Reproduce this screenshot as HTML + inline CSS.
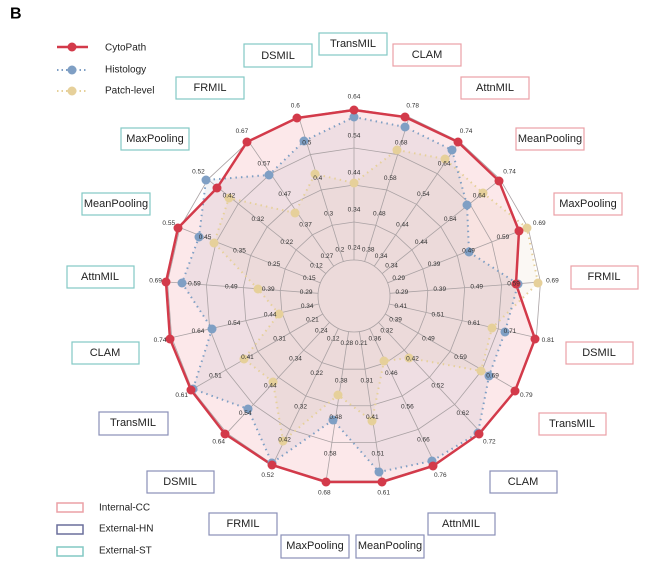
<!DOCTYPE html>
<html><head><meta charset="utf-8"><style>
html,body{margin:0;padding:0;background:#fff;}
svg{display:block;font-family:"Liberation Sans",sans-serif;}
.t{font-size:6.5px;fill:#333;text-anchor:middle;dominant-baseline:central;}
.b{font-size:11px;fill:#222;text-anchor:middle;dominant-baseline:central;}
.l{font-size:10px;fill:#222;dominant-baseline:central;}
</style></head><body>
<svg width="648" height="568" viewBox="0 0 648 568" xmlns="http://www.w3.org/2000/svg">
<text x="10" y="14" font-size="16" font-weight="bold" dominant-baseline="central">B</text>
<!-- legend top -->
<line x1="57" y1="47" x2="88" y2="47" stroke="#d33a4a" stroke-width="2.5"/><circle cx="72" cy="47" r="4.5" fill="#d33a4a"/>
<text class="l" x="105" y="48">CytoPath</text>
<line x1="57" y1="70" x2="88" y2="70" stroke="#7f9fc4" stroke-width="2" stroke-dasharray="1.5 3"/><circle cx="72" cy="70" r="4.5" fill="#7f9fc4"/>
<text class="l" x="105" y="70">Histology</text>
<line x1="57" y1="91" x2="88" y2="91" stroke="#e6d09a" stroke-width="2" stroke-dasharray="1.5 3"/><circle cx="72" cy="91" r="4.5" fill="#e6d09a"/>
<text class="l" x="105" y="91">Patch-level</text>
<!-- legend bottom -->
<rect x="57" y="503" width="26" height="9" fill="none" stroke="#eba0a6" stroke-width="1.5"/><text class="l" x="99" y="508">Internal-CC</text>
<rect x="57" y="525" width="26" height="9" fill="none" stroke="#6a6f9c" stroke-width="1.5"/><text class="l" x="99" y="529">External-HN</text>
<rect x="57" y="547" width="26" height="9" fill="none" stroke="#82c9c4" stroke-width="1.5"/><text class="l" x="99" y="551">External-ST</text>

<!-- fills -->
<polygon points="354,110 405,117 458,142 499,181 519,231 516,284 535,339 515,391 479,434 433,466 382,482 326,482 272,465 225,434 191,390 170,339 166,282 178,228 217,188 247,142 297,118" fill="rgba(235,120,130,0.17)"/>
<polygon points="354,117 405,127 452,150 467,205 469,252 518,284 505,332 489,376 478,433 432,461 379,472 333,420 272,463 248,409 193,389 212,329 182,283 199,237 206,180 269,175 304,141" fill="rgba(130,135,170,0.10)"/>
<polygon points="354,183 397,150 445,159 483,193 527,228 538,283 492,328 481,371 409,358 384,361 372,421 338,395 283,441 273,382 244,359 279,314 258,289 214,243 229,198 295,213 315,174" fill="rgba(220,190,150,0.10)"/>

<!-- grid -->
<g fill="none" stroke="#aaa2a4" stroke-width="0.8">
<circle cx="354" cy="296" r="36"/>
<g transform="translate(354,296)">
<polygon vector-effect="non-scaling-stroke" transform="scale(0.74)" points="0,-100 29.48,-95.56 56.33,-82.62 78.18,-62.35 93.09,-36.53 99.72,-7.47 97.49,22.25 86.6,50 68.02,73.31 43.39,90.1 14.9,98.88 -14.9,98.88 -43.39,90.1 -68.02,73.31 -86.6,50 -97.49,22.25 -99.72,-7.47 -93.09,-36.53 -78.18,-62.35 -56.33,-82.62 -29.48,-95.56"/>
<polygon vector-effect="non-scaling-stroke" transform="scale(1.11)" points="0,-100 29.48,-95.56 56.33,-82.62 78.18,-62.35 93.09,-36.53 99.72,-7.47 97.49,22.25 86.6,50 68.02,73.31 43.39,90.1 14.9,98.88 -14.9,98.88 -43.39,90.1 -68.02,73.31 -86.6,50 -97.49,22.25 -99.72,-7.47 -93.09,-36.53 -78.18,-62.35 -56.33,-82.62 -29.48,-95.56"/>
<polygon vector-effect="non-scaling-stroke" transform="scale(1.48)" points="0,-100 29.48,-95.56 56.33,-82.62 78.18,-62.35 93.09,-36.53 99.72,-7.47 97.49,22.25 86.6,50 68.02,73.31 43.39,90.1 14.9,98.88 -14.9,98.88 -43.39,90.1 -68.02,73.31 -86.6,50 -97.49,22.25 -99.72,-7.47 -93.09,-36.53 -78.18,-62.35 -56.33,-82.62 -29.48,-95.56"/>
<polygon vector-effect="non-scaling-stroke" transform="scale(1.87)" points="0,-100 29.48,-95.56 56.33,-82.62 78.18,-62.35 93.09,-36.53 99.72,-7.47 97.49,22.25 86.6,50 68.02,73.31 43.39,90.1 14.9,98.88 -14.9,98.88 -43.39,90.1 -68.02,73.31 -86.6,50 -97.49,22.25 -99.72,-7.47 -93.09,-36.53 -78.18,-62.35 -56.33,-82.62 -29.48,-95.56"/>
</g>
<g id="ax"><line x1="354" y1="260" x2="354" y2="109"/></g>
<use href="#ax" transform="rotate(17.143 354 296)"/><use href="#ax" transform="rotate(34.286 354 296)"/><use href="#ax" transform="rotate(51.429 354 296)"/><use href="#ax" transform="rotate(68.571 354 296)"/><use href="#ax" transform="rotate(85.714 354 296)"/><use href="#ax" transform="rotate(102.857 354 296)"/><use href="#ax" transform="rotate(120 354 296)"/><use href="#ax" transform="rotate(137.143 354 296)"/><use href="#ax" transform="rotate(154.286 354 296)"/><use href="#ax" transform="rotate(171.429 354 296)"/><use href="#ax" transform="rotate(188.571 354 296)"/><use href="#ax" transform="rotate(205.714 354 296)"/><use href="#ax" transform="rotate(222.857 354 296)"/><use href="#ax" transform="rotate(240 354 296)"/><use href="#ax" transform="rotate(257.143 354 296)"/><use href="#ax" transform="rotate(274.286 354 296)"/><use href="#ax" transform="rotate(291.429 354 296)"/><use href="#ax" transform="rotate(308.571 354 296)"/><use href="#ax" transform="rotate(325.714 354 296)"/><use href="#ax" transform="rotate(342.857 354 296)"/>
</g>

<!-- series lines -->
<polygon points="354,183 397,150 445,159 483,193 527,228 538,283 492,328 481,371 409,358 384,361 372,421 338,395 283,441 273,382 244,359 279,314 258,289 214,243 229,198 295,213 315,174" fill="none" stroke="#e6d09a" stroke-width="2" stroke-dasharray="1.5 4"/>
<polygon points="354,117 405,127 452,150 467,205 469,252 518,284 505,332 489,376 478,433 432,461 379,472 333,420 272,463 248,409 193,389 212,329 182,283 199,237 206,180 269,175 304,141" fill="none" stroke="#7f9fc4" stroke-width="2" stroke-dasharray="1.5 4"/>
<polygon points="354,110 405,117 458,142 499,181 519,231 516,284 535,339 515,391 479,434 433,466 382,482 326,482 272,465 225,434 191,390 170,339 166,282 178,228 217,188 247,142 297,118" fill="none" stroke="#d33a4a" stroke-width="2.5"/>

<!-- points -->
<g fill="#e6d09a">
<circle cx="354" cy="183" r="4.5"/><circle cx="397" cy="150" r="4.5"/><circle cx="445" cy="159" r="4.5"/><circle cx="483" cy="193" r="4.5"/><circle cx="527" cy="228" r="4.5"/><circle cx="538" cy="283" r="4.5"/><circle cx="492" cy="328" r="4.5"/><circle cx="481" cy="371" r="4.5"/><circle cx="409" cy="358" r="4.5"/><circle cx="384" cy="361" r="4.5"/><circle cx="372" cy="421" r="4.5"/><circle cx="338" cy="395" r="4.5"/><circle cx="283" cy="441" r="4.5"/><circle cx="273" cy="382" r="4.5"/><circle cx="244" cy="359" r="4.5"/><circle cx="279" cy="314" r="4.5"/><circle cx="258" cy="289" r="4.5"/><circle cx="214" cy="243" r="4.5"/><circle cx="229" cy="198" r="4.5"/><circle cx="295" cy="213" r="4.5"/><circle cx="315" cy="174" r="4.5"/>
</g>
<g fill="#7f9fc4">
<circle cx="354" cy="117" r="4.5"/><circle cx="405" cy="127" r="4.5"/><circle cx="452" cy="150" r="4.5"/><circle cx="467" cy="205" r="4.5"/><circle cx="469" cy="252" r="4.5"/><circle cx="518" cy="284" r="4.5"/><circle cx="505" cy="332" r="4.5"/><circle cx="489" cy="376" r="4.5"/><circle cx="478" cy="433" r="4.5"/><circle cx="432" cy="461" r="4.5"/><circle cx="379" cy="472" r="4.5"/><circle cx="333" cy="420" r="4.5"/><circle cx="272" cy="463" r="4.5"/><circle cx="248" cy="409" r="4.5"/><circle cx="193" cy="389" r="4.5"/><circle cx="212" cy="329" r="4.5"/><circle cx="182" cy="283" r="4.5"/><circle cx="199" cy="237" r="4.5"/><circle cx="206" cy="180" r="4.5"/><circle cx="269" cy="175" r="4.5"/><circle cx="304" cy="141" r="4.5"/>
</g>
<g fill="#d33a4a">
<circle cx="354" cy="110" r="4.5"/><circle cx="405" cy="117" r="4.5"/><circle cx="458" cy="142" r="4.5"/><circle cx="499" cy="181" r="4.5"/><circle cx="519" cy="231" r="4.5"/><circle cx="516" cy="284" r="4.5"/><circle cx="535" cy="339" r="4.5"/><circle cx="515" cy="391" r="4.5"/><circle cx="479" cy="434" r="4.5"/><circle cx="433" cy="466" r="4.5"/><circle cx="382" cy="482" r="4.5"/><circle cx="326" cy="482" r="4.5"/><circle cx="272" cy="465" r="4.5"/><circle cx="225" cy="434" r="4.5"/><circle cx="191" cy="390" r="4.5"/><circle cx="170" cy="339" r="4.5"/><circle cx="166" cy="282" r="4.5"/><circle cx="178" cy="228" r="4.5"/><circle cx="217" cy="188" r="4.5"/><circle cx="247" cy="142" r="4.5"/><circle cx="297" cy="118" r="4.5"/>
</g>

<!-- tick labels -->
<g class="t">
<g><text class="t" x="354" y="248">0.24</text><text class="t" x="354" y="210">0.34</text><text class="t" x="354" y="173">0.44</text><text class="t" x="354" y="136">0.54</text><text class="t" x="354" y="97">0.64</text></g>
<g transform="rotate(17.143 354 296)"><text class="t" x="354" y="248" transform="rotate(-17.143 354 248)">0.38</text><text class="t" x="354" y="210" transform="rotate(-17.143 354 210)">0.48</text><text class="t" x="354" y="173" transform="rotate(-17.143 354 173)">0.58</text><text class="t" x="354" y="136" transform="rotate(-17.143 354 136)">0.68</text><text class="t" x="354" y="97" transform="rotate(-17.143 354 97)">0.78</text></g>
<g transform="rotate(34.286 354 296)"><text class="t" x="354" y="248" transform="rotate(-34.286 354 248)">0.34</text><text class="t" x="354" y="210" transform="rotate(-34.286 354 210)">0.44</text><text class="t" x="354" y="173" transform="rotate(-34.286 354 173)">0.54</text><text class="t" x="354" y="136" transform="rotate(-34.286 354 136)">0.64</text><text class="t" x="354" y="97" transform="rotate(-34.286 354 97)">0.74</text></g>
<g transform="rotate(51.429 354 296)"><text class="t" x="354" y="248" transform="rotate(-51.429 354 248)">0.34</text><text class="t" x="354" y="210" transform="rotate(-51.429 354 210)">0.44</text><text class="t" x="354" y="173" transform="rotate(-51.429 354 173)">0.54</text><text class="t" x="354" y="136" transform="rotate(-51.429 354 136)">0.64</text><text class="t" x="354" y="97" transform="rotate(-51.429 354 97)">0.74</text></g>
<g transform="rotate(68.571 354 296)"><text class="t" x="354" y="248" transform="rotate(-68.571 354 248)">0.29</text><text class="t" x="354" y="210" transform="rotate(-68.571 354 210)">0.39</text><text class="t" x="354" y="173" transform="rotate(-68.571 354 173)">0.49</text><text class="t" x="354" y="136" transform="rotate(-68.571 354 136)">0.59</text><text class="t" x="354" y="97" transform="rotate(-68.571 354 97)">0.69</text></g>
<g transform="rotate(85.714 354 296)"><text class="t" x="354" y="248" transform="rotate(-85.714 354 248)">0.29</text><text class="t" x="354" y="210" transform="rotate(-85.714 354 210)">0.39</text><text class="t" x="354" y="173" transform="rotate(-85.714 354 173)">0.49</text><text class="t" x="354" y="136" transform="rotate(-85.714 354 136)">0.59</text><text class="t" x="354" y="97" transform="rotate(-85.714 354 97)">0.69</text></g>
<g transform="rotate(102.857 354 296)"><text class="t" x="354" y="248" transform="rotate(-102.857 354 248)">0.41</text><text class="t" x="354" y="210" transform="rotate(-102.857 354 210)">0.51</text><text class="t" x="354" y="173" transform="rotate(-102.857 354 173)">0.61</text><text class="t" x="354" y="136" transform="rotate(-102.857 354 136)">0.71</text><text class="t" x="354" y="97" transform="rotate(-102.857 354 97)">0.81</text></g>
<g transform="rotate(120 354 296)"><text class="t" x="354" y="248" transform="rotate(-120 354 248)">0.39</text><text class="t" x="354" y="210" transform="rotate(-120 354 210)">0.49</text><text class="t" x="354" y="173" transform="rotate(-120 354 173)">0.59</text><text class="t" x="354" y="136" transform="rotate(-120 354 136)">0.69</text><text class="t" x="354" y="97" transform="rotate(-120 354 97)">0.79</text></g>
<g transform="rotate(137.143 354 296)"><text class="t" x="354" y="248" transform="rotate(-137.143 354 248)">0.32</text><text class="t" x="354" y="210" transform="rotate(-137.143 354 210)">0.42</text><text class="t" x="354" y="173" transform="rotate(-137.143 354 173)">0.52</text><text class="t" x="354" y="136" transform="rotate(-137.143 354 136)">0.62</text><text class="t" x="354" y="97" transform="rotate(-137.143 354 97)">0.72</text></g>
<g transform="rotate(154.286 354 296)"><text class="t" x="354" y="248" transform="rotate(-154.286 354 248)">0.36</text><text class="t" x="354" y="210" transform="rotate(-154.286 354 210)">0.46</text><text class="t" x="354" y="173" transform="rotate(-154.286 354 173)">0.56</text><text class="t" x="354" y="136" transform="rotate(-154.286 354 136)">0.66</text><text class="t" x="354" y="97" transform="rotate(-154.286 354 97)">0.76</text></g>
<g transform="rotate(171.429 354 296)"><text class="t" x="354" y="248" transform="rotate(-171.429 354 248)">0.21</text><text class="t" x="354" y="210" transform="rotate(-171.429 354 210)">0.31</text><text class="t" x="354" y="173" transform="rotate(-171.429 354 173)">0.41</text><text class="t" x="354" y="136" transform="rotate(-171.429 354 136)">0.51</text><text class="t" x="354" y="97" transform="rotate(-171.429 354 97)">0.61</text></g>
<g transform="rotate(188.571 354 296)"><text class="t" x="354" y="248" transform="rotate(-188.571 354 248)">0.28</text><text class="t" x="354" y="210" transform="rotate(-188.571 354 210)">0.38</text><text class="t" x="354" y="173" transform="rotate(-188.571 354 173)">0.48</text><text class="t" x="354" y="136" transform="rotate(-188.571 354 136)">0.58</text><text class="t" x="354" y="97" transform="rotate(-188.571 354 97)">0.68</text></g>
<g transform="rotate(205.714 354 296)"><text class="t" x="354" y="248" transform="rotate(-205.714 354 248)">0.12</text><text class="t" x="354" y="210" transform="rotate(-205.714 354 210)">0.22</text><text class="t" x="354" y="173" transform="rotate(-205.714 354 173)">0.32</text><text class="t" x="354" y="136" transform="rotate(-205.714 354 136)">0.42</text><text class="t" x="354" y="97" transform="rotate(-205.714 354 97)">0.52</text></g>
<g transform="rotate(222.857 354 296)"><text class="t" x="354" y="248" transform="rotate(-222.857 354 248)">0.24</text><text class="t" x="354" y="210" transform="rotate(-222.857 354 210)">0.34</text><text class="t" x="354" y="173" transform="rotate(-222.857 354 173)">0.44</text><text class="t" x="354" y="136" transform="rotate(-222.857 354 136)">0.54</text><text class="t" x="354" y="97" transform="rotate(-222.857 354 97)">0.64</text></g>
<g transform="rotate(240 354 296)"><text class="t" x="354" y="248" transform="rotate(-240 354 248)">0.21</text><text class="t" x="354" y="210" transform="rotate(-240 354 210)">0.31</text><text class="t" x="354" y="173" transform="rotate(-240 354 173)">0.41</text><text class="t" x="354" y="136" transform="rotate(-240 354 136)">0.51</text><text class="t" x="354" y="97" transform="rotate(-240 354 97)">0.61</text></g>
<g transform="rotate(257.143 354 296)"><text class="t" x="354" y="248" transform="rotate(-257.143 354 248)">0.34</text><text class="t" x="354" y="210" transform="rotate(-257.143 354 210)">0.44</text><text class="t" x="354" y="173" transform="rotate(-257.143 354 173)">0.54</text><text class="t" x="354" y="136" transform="rotate(-257.143 354 136)">0.64</text><text class="t" x="354" y="97" transform="rotate(-257.143 354 97)">0.74</text></g>
<g transform="rotate(274.286 354 296)"><text class="t" x="354" y="248" transform="rotate(-274.286 354 248)">0.29</text><text class="t" x="354" y="210" transform="rotate(-274.286 354 210)">0.39</text><text class="t" x="354" y="173" transform="rotate(-274.286 354 173)">0.49</text><text class="t" x="354" y="136" transform="rotate(-274.286 354 136)">0.59</text><text class="t" x="354" y="97" transform="rotate(-274.286 354 97)">0.69</text></g>
<g transform="rotate(291.429 354 296)"><text class="t" x="354" y="248" transform="rotate(-291.429 354 248)">0.15</text><text class="t" x="354" y="210" transform="rotate(-291.429 354 210)">0.25</text><text class="t" x="354" y="173" transform="rotate(-291.429 354 173)">0.35</text><text class="t" x="354" y="136" transform="rotate(-291.429 354 136)">0.45</text><text class="t" x="354" y="97" transform="rotate(-291.429 354 97)">0.55</text></g>
<g transform="rotate(308.571 354 296)"><text class="t" x="354" y="248" transform="rotate(-308.571 354 248)">0.12</text><text class="t" x="354" y="210" transform="rotate(-308.571 354 210)">0.22</text><text class="t" x="354" y="173" transform="rotate(-308.571 354 173)">0.32</text><text class="t" x="354" y="136" transform="rotate(-308.571 354 136)">0.42</text><text class="t" x="354" y="97" transform="rotate(-308.571 354 97)">0.52</text></g>
<g transform="rotate(325.714 354 296)"><text class="t" x="354" y="248" transform="rotate(-325.714 354 248)">0.27</text><text class="t" x="354" y="210" transform="rotate(-325.714 354 210)">0.37</text><text class="t" x="354" y="173" transform="rotate(-325.714 354 173)">0.47</text><text class="t" x="354" y="136" transform="rotate(-325.714 354 136)">0.57</text><text class="t" x="354" y="97" transform="rotate(-325.714 354 97)">0.67</text></g>
<g transform="rotate(342.857 354 296)"><text class="t" x="354" y="248" transform="rotate(-342.857 354 248)">0.2</text><text class="t" x="354" y="210" transform="rotate(-342.857 354 210)">0.3</text><text class="t" x="354" y="173" transform="rotate(-342.857 354 173)">0.4</text><text class="t" x="354" y="136" transform="rotate(-342.857 354 136)">0.5</text><text class="t" x="354" y="97" transform="rotate(-342.857 354 97)">0.6</text></g>
</g>

<!-- category boxes -->
<g fill="#fff" stroke-width="1.2">
<g stroke="#82c9c4">
<rect x="319" y="33" width="68" height="22"/><rect x="244" y="44" width="68" height="23"/><rect x="176" y="77" width="68" height="22"/><rect x="121" y="128" width="68" height="22"/><rect x="82" y="193" width="68" height="22"/><rect x="67" y="266" width="67" height="22"/><rect x="72" y="342" width="67" height="22"/>
</g>
<g stroke="#eba0a6">
<rect x="393" y="44" width="68" height="22"/><rect x="461" y="77" width="68" height="22"/><rect x="516" y="128" width="68" height="22"/><rect x="554" y="193" width="68" height="22"/><rect x="571" y="266" width="67" height="23"/><rect x="566" y="342" width="67" height="22"/><rect x="539" y="413" width="67" height="22"/>
</g>
<g stroke="#8a8fb8">
<rect x="490" y="471" width="67" height="22"/><rect x="428" y="513" width="67" height="22"/><rect x="356" y="535" width="68" height="23"/><rect x="281" y="535" width="68" height="23"/><rect x="209" y="513" width="68" height="22"/><rect x="147" y="471" width="67" height="22"/><rect x="99" y="412" width="69" height="23"/>
</g>
</g>
<g class="b">
<text class="b" x="353" y="44">TransMIL</text><text class="b" x="278" y="56">DSMIL</text><text class="b" x="210" y="88">FRMIL</text><text class="b" x="155" y="139">MaxPooling</text><text class="b" x="116" y="204">MeanPooling</text><text class="b" x="100" y="277">AttnMIL</text><text class="b" x="105" y="353">CLAM</text>
<text class="b" x="427" y="55">CLAM</text><text class="b" x="495" y="88">AttnMIL</text><text class="b" x="550" y="139">MeanPooling</text><text class="b" x="588" y="204">MaxPooling</text><text class="b" x="604" y="277">FRMIL</text><text class="b" x="599" y="353">DSMIL</text><text class="b" x="572" y="424">TransMIL</text>
<text class="b" x="523" y="482">CLAM</text><text class="b" x="461" y="524">AttnMIL</text><text class="b" x="390" y="546">MeanPooling</text><text class="b" x="315" y="546">MaxPooling</text><text class="b" x="243" y="524">FRMIL</text><text class="b" x="180" y="482">DSMIL</text><text class="b" x="133" y="423">TransMIL</text>
</g>
</svg>
</body></html>
